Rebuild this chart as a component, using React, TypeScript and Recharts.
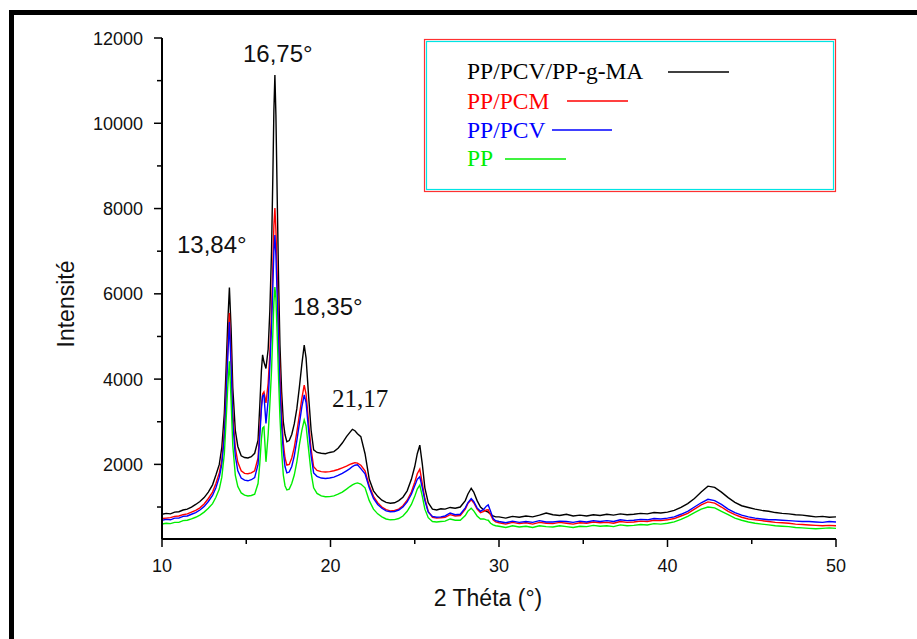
import React from 'react';
import { LineChart, Line, XAxis, YAxis } from 'recharts';

// 2θ positions (degrees)
const theta = [
  10, 10.25, 10.5, 10.75, 11, 11.25, 11.5, 11.75, 12, 12.25, 12.5, 12.75, 13,
  13.2, 13.4, 13.55, 13.7, 13.8, 13.9, 14.0, 14.1, 14.2, 14.35, 14.5, 14.7, 14.9, 15.1,
  15.3, 15.5, 15.7, 15.8, 15.9, 15.97, 16.05, 16.17, 16.3, 16.4, 16.5, 16.58,
  16.64, 16.7, 16.76, 16.84, 16.92, 17.0, 17.1, 17.2, 17.3, 17.41, 17.55, 17.7,
  17.85, 18.0, 18.15, 18.3, 18.44, 18.55, 18.7, 18.85, 19.0, 19.2, 19.45, 19.7,
  19.95, 20.2, 20.45, 20.7, 20.95, 21.15, 21.3, 21.45, 21.6, 21.8, 22.05, 22.3,
  22.55, 22.8, 23.05, 23.3, 23.55, 23.8, 24.05, 24.3, 24.55, 24.8, 25.0, 25.15,
  25.3, 25.45, 25.6, 25.8, 26.05, 26.3, 26.55, 26.8, 27.1, 27.4, 27.7, 28.0,
  28.15, 28.35, 28.5, 28.7, 28.9, 29.1, 29.25, 29.36, 29.5, 29.65, 29.8, 30.0,
  30.4, 30.8, 31.2, 31.6, 32.0, 32.4, 32.8, 33.2, 33.6, 34.0,
  34.4, 34.8, 35.2, 35.6, 36.0, 36.4, 36.8, 37.2, 37.6, 38.0,
  38.4, 38.8, 39.2, 39.6, 40.0, 40.4, 40.8, 41.2, 41.6, 42.0,
  42.4, 42.8, 43.2, 43.6, 44.0, 44.4, 44.8, 45.2, 45.6, 46.0,
  46.4, 46.8, 47.2, 47.6, 48.0, 48.4, 48.8, 49.2, 49.6, 50.0,
];

// PP/PCV/PP-g-MA (black)
const ppPcvPpgMa = [
  830, 850, 840, 880, 890, 930, 950, 1000, 1060, 1130, 1220, 1350, 1520,
  1750, 2000, 2400, 3200, 4200, 5300, 6150, 5200, 3800, 2800, 2420, 2200, 2160, 2150,
  2180, 2260, 2570, 3350, 4200, 4570, 4400, 4250, 4700, 5600, 7000, 8800,
  10300, 11130, 10200, 8200, 6300, 4800, 3700, 3000, 2700, 2530, 2560, 2700,
  2950, 3300, 3800, 4350, 4800, 4500, 3600, 2800, 2340, 2280, 2260, 2250,
  2280, 2300, 2380, 2500, 2650, 2750, 2820, 2790, 2720, 2650, 2250, 1650,
  1380, 1250, 1160, 1110, 1090, 1100, 1150, 1230, 1380, 1650, 1950, 2250,
  2450, 2000, 1450, 1100, 950, 930, 960, 950, 990, 970, 1000, 1150,
  1300, 1440, 1350, 1150, 1000, 930, 900, 880, 830, 790, 770, 770,
  740, 780, 760, 790, 770, 810, 860, 820, 800, 830,
  790, 810, 790, 820, 800, 830, 810, 840, 820, 830,
  850, 840, 870, 860, 880, 920, 990, 1080, 1200, 1350,
  1490, 1460, 1350, 1220, 1110, 1030, 990, 950, 920, 900,
  870, 850, 840, 820, 810, 790, 770, 780, 760, 770,
];

// PP/PCM (red)
const ppPcm = [
  730, 740, 750, 780, 790, 820, 840, 880, 920, 980, 1070, 1200, 1350,
  1550, 1800, 2100, 2800, 3700, 4700, 5550, 4500, 3200, 2400, 2050, 1850, 1790, 1780,
  1800, 1850, 2150, 2800, 3400, 3650, 3700, 3440, 3900, 4600, 5600, 6700,
  7600, 8010, 7500, 6400, 5200, 4100, 3200, 2500, 2150, 1985, 2000, 2150,
  2400, 2750, 3150, 3550, 3860, 3650, 3000, 2350, 1945, 1860, 1830, 1820,
  1830, 1850, 1880, 1920, 1960, 2000, 2020, 2040, 2030, 1980, 1850, 1500,
  1250, 1100, 1000, 940, 910, 920, 950, 1030, 1160, 1350, 1580, 1780,
  1890, 1550, 1200, 900, 760, 740, 750, 760, 820, 790, 800, 950,
  1080, 1170, 1100, 950, 870, 900, 930, 935, 820, 700, 650, 630,
  600, 640, 610, 630, 600, 640, 620, 610, 640, 620,
  600, 630, 620, 650, 630, 640, 620, 660, 640, 650,
  670, 660, 690, 680, 700, 730, 790, 850, 950, 1050,
  1120, 1090, 1000, 900, 820, 760, 720, 700, 680, 660,
  640, 630, 620, 600, 590, 580, 570, 560, 570, 560,
];

// PP/PCV (blue)
const ppPcv = [
  690, 710, 700, 740, 740, 780, 790, 830, 870, 930, 1010, 1130, 1270,
  1450, 1700, 2000, 2650, 3500, 4500, 5340, 4300, 3000, 2200, 1850, 1680, 1630, 1615,
  1640, 1690, 2000, 2650, 3300, 3600, 3630, 2960, 3500, 4300, 5200, 6200,
  7000, 7380, 6900, 5900, 4800, 3800, 2900, 2300, 1950, 1800, 1820, 1950,
  2200, 2550, 2950, 3350, 3630, 3450, 2800, 2200, 1800, 1720, 1680, 1670,
  1680, 1700, 1740, 1790, 1850, 1900, 1950, 1980, 1990, 1900, 1780, 1450,
  1200, 1060, 970, 910, 890, 895, 930, 1000, 1120, 1300, 1500, 1650,
  1710, 1450, 1150, 880, 780, 760, 770, 790, 860, 820, 830, 980,
  1100, 1200, 1130, 980, 900, 950, 1020, 1050, 900, 730, 680, 660,
  630, 670, 640, 660, 640, 680, 650, 650, 670, 660,
  640, 670, 650, 680, 660, 680, 660, 700, 680, 690,
  710, 700, 730, 720, 740, 770, 830, 900, 1000, 1100,
  1180, 1150, 1060, 950, 870, 810, 770, 740, 720, 700,
  700, 690, 680, 670, 660, 660, 650, 640, 660, 650,
];

// PP (green)
const pp = [
  600, 620, 610, 640, 640, 680, 690, 720, 760, 810, 880, 970, 1080,
  1230, 1420, 1700, 2250, 3000, 3800, 4420, 3500, 2450, 1750, 1480, 1330, 1280, 1260,
  1270, 1300, 1550, 2000, 2600, 2850, 2880, 2060, 2700, 3400, 4200, 5100,
  5800, 6160, 5900, 5000, 4000, 3100, 2300, 1750, 1500, 1400, 1420, 1550,
  1750, 2050, 2450, 2800, 3040, 2900, 2350, 1800, 1450, 1320, 1260, 1240,
  1245, 1260, 1300, 1350, 1420, 1480, 1520, 1550, 1565, 1540, 1450, 1150,
  950, 840, 770, 720, 700, 705, 730, 790, 900, 1060, 1250, 1420,
  1515, 1250, 950, 750, 660, 650, 660, 670, 720, 690, 690, 800,
  900, 970, 910, 790, 720, 720, 700, 690, 620, 580, 560, 550,
  520, 560, 530, 550, 520, 560, 540, 530, 560, 540,
  520, 550, 540, 570, 550, 560, 540, 580, 560, 570,
  590, 580, 610, 600, 620, 650, 710, 780, 870, 950,
  1000, 980, 900, 820, 740, 690, 650, 620, 600, 580,
  560, 550, 540, 520, 510, 500, 490, 500, 510, 500,
];

const xTicks = [10, 15, 20, 25, 30, 35, 40, 45, 50];
const yTicks = [1000, 2000, 3000, 4000, 5000, 6000, 7000, 8000, 9000, 10000, 11000, 12000];

const seriesNames = ['PP/PCV/PP-g-MA', 'PP/PCM', 'PP/PCV', 'PP'];
const peakLabels = ['16,75°', '13,84°', '18,35°', '21,17'];

const data = theta.map((t, i) => ({
  t,
  black: ppPcvPpgMa[i],
  red: ppPcm[i],
  blue: ppPcv[i],
  green: pp[i],
}));

const SANS = "Arial, 'Liberation Sans', sans-serif";
const SERIF = "'Times New Roman', 'Liberation Serif', serif";

const XTick = (props: any) => {
  const { x, y, payload } = props;
  const v = payload.value;
  const major = v % 10 === 0;
  return (
    <g>
      <line x1={x} y1={y} x2={x} y2={y + (major ? 8 : 5)} stroke="#000" strokeWidth={1.5} />
      {major && (
        <text x={x} y={y + 33} textAnchor="middle" fontSize={18} fontFamily={SANS} fill="#111">
          {v}
        </text>
      )}
    </g>
  );
};

const YTick = (props: any) => {
  const { x, y, payload } = props;
  const v = payload.value;
  const major = v % 2000 === 0;
  return (
    <g>
      <line x1={x} y1={y} x2={x - (major ? 8 : 5)} y2={y} stroke="#000" strokeWidth={1.5} />
      {major && (
        <text x={x - 19} y={y + 6.5} textAnchor="end" fontSize={18} fontFamily={SANS} fill="#111">
          {v}
        </text>
      )}
    </g>
  );
};

export default function App() {
  return (
    <div style={{ position: 'absolute', left: 0, top: 0, width: 917, height: 639, overflow: 'hidden', background: '#fff' }}>
      <div
        style={{
          position: 'absolute',
          left: 9,
          top: 10,
          width: 1200,
          height: 1200,
          borderLeft: '5px solid #000',
          borderTop: '5px solid #000',
        }}
      />
      <div style={{ position: 'absolute', left: 0, top: 0 }}>
        <LineChart width={917} height={639} data={data} margin={{ top: 38, right: 81, bottom: 60, left: 102 }}>
          <XAxis
            dataKey="t"
            type="number"
            domain={[10, 50]}
            ticks={xTicks}
            interval={0}
            allowDataOverflow
            height={40}
            tickSize={0}
            tickMargin={0}
            tickLine={false}
            axisLine={{ stroke: '#000', strokeWidth: 2 }}
            tick={<XTick />}
          />
          <XAxis
            xAxisId="top"
            orientation="top"
            type="number"
            domain={[10, 50]}
            height={0}
            tick={false}
            tickLine={false}
            axisLine={{ stroke: '#000', strokeWidth: 2 }}
          />
          <YAxis
            type="number"
            domain={[250, 12000]}
            ticks={yTicks}
            interval={0}
            allowDataOverflow
            width={60}
            tickSize={0}
            tickMargin={0}
            tickLine={false}
            axisLine={{ stroke: '#000', strokeWidth: 2 }}
            tick={<YTick />}
          />
          <YAxis
            yAxisId="right"
            orientation="right"
            type="number"
            domain={[250, 12000]}
            width={0}
            tick={false}
            tickLine={false}
            axisLine={{ stroke: '#000', strokeWidth: 2 }}
          />
          <Line dataKey="black" type="linear" stroke="#000000" strokeWidth={1.4} dot={false} isAnimationActive={false} />
          <Line dataKey="red" type="linear" stroke="#ff0000" strokeWidth={1.4} dot={false} isAnimationActive={false} />
          <Line dataKey="blue" type="linear" stroke="#0000ff" strokeWidth={1.4} dot={false} isAnimationActive={false} />
          <Line dataKey="green" type="linear" stroke="#00ee00" strokeWidth={1.4} dot={false} isAnimationActive={false} />
        </LineChart>
      </div>
      <svg width={917} height={639} style={{ position: 'absolute', left: 0, top: 0, pointerEvents: 'none' }}>
        {/* legend box */}
        <rect x={424.5} y={39.5} width={411} height={152} fill="#fff" stroke="#ff3030" strokeWidth={1.2} />
        <rect x={426.5} y={41.5} width={407} height={148} fill="none" stroke="#00e5e5" strokeWidth={1.2} />
        <text x={467} y={79} fontSize={23.5} fontFamily={SERIF} fill="#000">{seriesNames[0]}</text>
        <line x1={668} y1={72} x2={729} y2={72} stroke="#000" strokeWidth={1.4} />
        <text x={467} y={109} fontSize={23.5} fontFamily={SERIF} fill="#ff0000">{seriesNames[1]}</text>
        <line x1={567} y1={101} x2={628} y2={101} stroke="#ff0000" strokeWidth={1.4} />
        <text x={467} y={137.5} fontSize={23.5} fontFamily={SERIF} fill="#0000ff">{seriesNames[2]}</text>
        <line x1={552} y1={130} x2={612} y2={130} stroke="#0000ff" strokeWidth={1.4} />
        <text x={467} y={166} fontSize={23.5} fontFamily={SERIF} fill="#00ee00">{seriesNames[3]}</text>
        <line x1={505} y1={159} x2={566} y2={159} stroke="#00ee00" strokeWidth={1.4} />

        {/* peak annotations */}
        <text x={243} y={62} fontSize={24} fontFamily={SANS} fill="#111">{peakLabels[0]}</text>
        <text x={177} y={253} fontSize={24} fontFamily={SANS} fill="#111">{peakLabels[1]}</text>
        <text x={293} y={315} fontSize={24} fontFamily={SANS} fill="#111">{peakLabels[2]}</text>
        <text x={332} y={407} fontSize={25} fontFamily={SERIF} fill="#111">{peakLabels[3]}</text>

        {/* axis titles */}
        <text x={488} y={606} textAnchor="middle" fontSize={23} fontFamily={SANS} fill="#111">2 Théta (°)</text>
        <text transform="translate(74,304) rotate(-90)" textAnchor="middle" fontSize={23} fontFamily={SANS} fill="#111">
          Intensité
        </text>
      </svg>
    </div>
  );
}
